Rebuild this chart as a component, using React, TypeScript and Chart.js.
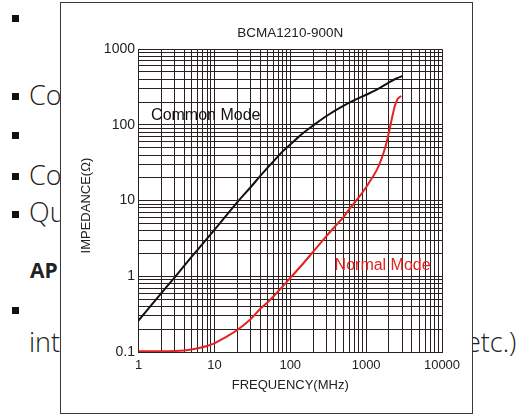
import React, { useEffect, useRef } from "react";
import { Chart, registerables } from "chart.js";

Chart.register(...registerables);

// ---- data ----
const chartTitle = "BCMA1210-900N";
const xTitle = "FREQUENCY(MHz)";
const yTitle = "IMPEDANCE(Ω)";
const xMajorTicks = [1, 10, 100, 1000, 10000];
const xTickLabels = ["1", "10", "100", "1000", "10000"];
const yMajorTicks = [0.1, 1, 10, 100, 1000];
const yTickLabels = ["0.1", "1", "10", "100", "1000"];
const gridMultipliers = [1, 2, 3, 4, 5, 6, 7, 8, 9];

const seriesNames = ["Common Mode", "Normal Mode"];

const commonFreq = [1, 2, 3, 5, 10, 20, 30, 40, 50, 60, 70, 80, 100, 130, 160, 200, 300, 500, 700, 1000, 1500, 2000, 2500, 3000];
const commonImp = [0.26, 0.6, 0.97, 1.8, 4.1, 9.5, 15, 21, 27, 33, 39, 45, 55, 70, 83, 98, 131, 178, 212, 250, 305, 365, 410, 440];

const normalFreq = [1, 2, 3, 4, 5, 6, 8, 10, 13, 20, 30, 40, 50, 70, 100, 150, 200, 300, 400, 500, 600, 800, 1000, 1200, 1400, 1600, 1800, 2000, 2200, 2400, 2600, 2800, 2900];
const normalImp = [0.102, 0.102, 0.103, 0.105, 0.108, 0.112, 0.12, 0.13, 0.15, 0.195, 0.27, 0.37, 0.45, 0.64, 0.95, 1.5, 2.1, 3.4, 4.7, 6.0, 7.7, 11, 15, 20, 26, 36, 52, 80, 125, 180, 220, 235, 241];

// in-plot series labels (anchored in data coordinates)
const labelFreq = [7.7, 1650];
const labelImp = [131, 1.4];

// background page text fragments
const pageTexts = ["Co", "Co", "Qu", "AP", "int", "etc.)"];

// ---- styles ----
const black = "#111111";
const red = "#e4221f";
const gridColor = "#2a2020";
const textColor = "#222222";
const fontFamily = "'Liberation Sans', Arial, Helvetica, sans-serif";

function logGrid(majors: number[]) {
  const out: number[] = [];
  for (let i = 0; i < majors.length - 1; i++) {
    for (const k of gridMultipliers) out.push(majors[i] * k);
  }
  out.push(majors[majors.length - 1]);
  return out;
}

function labelFor(value: number, majors: number[], labels: string[]) {
  const i = majors.findIndex((m) => Math.abs(Math.log10(m) - Math.log10(value)) < 1e-6);
  return i >= 0 ? labels[i] : "";
}

const seriesLabelPlugin = {
  id: "seriesLabels",
  afterDatasetsDraw(chart: any) {
    const { ctx, scales, chartArea } = chart;
    const colors = [black, red];
    ctx.save();
    ctx.font = `16px ${fontFamily}`;
    ctx.textAlign = "center";
    ctx.textBaseline = "middle";
    seriesNames.forEach((name, i) => {
      const x = scales.x.getPixelForValue(labelFreq[i]);
      const y = scales.y.getPixelForValue(labelImp[i]);
      ctx.fillStyle = colors[i];
      ctx.fillText(name, x, y);
    });
    // y-axis title
    ctx.font = `13px ${fontFamily}`;
    ctx.fillStyle = textColor;
    ctx.translate(25.5, (chartArea.top + chartArea.bottom) / 2 + 5);
    ctx.rotate(-Math.PI / 2);
    ctx.fillText(yTitle, 0, 0);
    ctx.restore();
  },
};

function ImpedanceChart() {
  const ref = useRef<HTMLCanvasElement | null>(null);
  useEffect(() => {
    if (!ref.current) return;
    Chart.defaults.font.family = fontFamily;
    const chart = new Chart(ref.current, {
      type: "line",
      data: {
        datasets: [
          {
            label: seriesNames[0],
            data: commonFreq.map((f, i) => ({ x: f, y: commonImp[i] })),
            borderColor: black,
            borderWidth: 2,
            pointRadius: 0,
            cubicInterpolationMode: "monotone",
            fill: false,
          },
          {
            label: seriesNames[1],
            data: normalFreq.map((f, i) => ({ x: f, y: normalImp[i] })),
            borderColor: red,
            borderWidth: 2,
            pointRadius: 0,
            cubicInterpolationMode: "monotone",
            fill: false,
          },
        ],
      },
      options: {
        animation: false,
        responsive: false,
        events: [],
        layout: { padding: { left: 0, right: 30, top: 0, bottom: 0 } },
        plugins: {
          legend: { display: false },
          tooltip: { enabled: false },
          title: {
            display: true,
            text: chartTitle,
            fullSize: false,
            color: textColor,
            font: { size: 13.5, weight: "normal" },
            padding: { top: 22, bottom: 8 },
          },
        },
        scales: {
          x: {
            type: "logarithmic",
            min: 1,
            max: 10000,
            afterBuildTicks: (s: any) => {
              s.ticks = logGrid(xMajorTicks).map((v) => ({ value: v }));
            },
            afterFit: (s: any) => {
              s.height = 61;
            },
            ticks: {
              autoSkip: false,
              maxRotation: 0,
              padding: 6,
              color: textColor,
              font: { size: 13 },
              callback: (v: any) => labelFor(Number(v), xMajorTicks, xTickLabels),
            },
            grid: { color: gridColor, lineWidth: 1, drawTicks: false },
            border: { color: gridColor, width: 1 },
            title: {
              display: true,
              text: xTitle,
              color: textColor,
              font: { size: 13 },
              padding: { top: 0, bottom: 20 },
            },
          },
          y: {
            type: "logarithmic",
            min: 0.1,
            max: 1000,
            afterBuildTicks: (s: any) => {
              s.ticks = logGrid(yMajorTicks).map((v) => ({ value: v }));
            },
            afterFit: (s: any) => {
              s.width = 77.5;
            },
            ticks: {
              autoSkip: false,
              padding: 3.5,
              color: textColor,
              font: { size: 14 },
              callback: (v: any) => labelFor(Number(v), yMajorTicks, yTickLabels),
            },
            grid: { color: gridColor, lineWidth: 1, drawTicks: false },
            border: { color: gridColor, width: 1 },
            title: { display: false },
          },
        },
      } as any,
      plugins: [seriesLabelPlugin],
    });
    return () => chart.destroy();
  }, []);
  return <canvas ref={ref} width={411} height={410} style={{ display: "block", width: 411, height: 410 }} />;
}

const pageFont = "'Open Sans', 'Noto Sans', sans-serif";

export default function App() {
  const textStyle = (top: number, left: number, extra: React.CSSProperties = {}): React.CSSProperties => ({
    position: "absolute",
    top,
    left,
    fontFamily: pageFont,
    fontWeight: 300,
    fontSize: 27,
    lineHeight: "32px",
    color: "#222",
    whiteSpace: "nowrap",
    ...extra,
  });
  const bullet = (cy: number): React.CSSProperties => ({
    position: "absolute",
    left: 12,
    top: cy - 3.5,
    width: 7,
    height: 7,
    background: "#111",
  });
  return (
    <div
      style={{
        position: "absolute",
        left: 0,
        top: 0,
        width: 526,
        height: 415,
        overflow: "hidden",
        background: "#fff",
      }}
    >
      <div style={bullet(18)} />
      <div style={bullet(96)} />
      <div style={bullet(135)} />
      <div style={bullet(176)} />
      <div style={bullet(214)} />
      <div style={bullet(310)} />
      <div style={textStyle(79, 29)}>{pageTexts[0]}</div>
      <div style={textStyle(159, 29)}>{pageTexts[1]}</div>
      <div style={textStyle(196, 29)}>{pageTexts[2]}</div>
      <div style={textStyle(258, 30, { fontWeight: 700, fontSize: 21, lineHeight: "24px" })}>{pageTexts[3]}</div>
      <div style={textStyle(326, 29)}>{pageTexts[4]}</div>
      <div style={textStyle(326, 466)}>{pageTexts[5]}</div>
      <div
        style={{
          position: "absolute",
          left: 60,
          top: 2,
          width: 413,
          height: 412,
          boxSizing: "border-box",
          border: "1px solid #3a3a3a",
          background: "#fff",
        }}
      >
        <ImpedanceChart />
      </div>
    </div>
  );
}
